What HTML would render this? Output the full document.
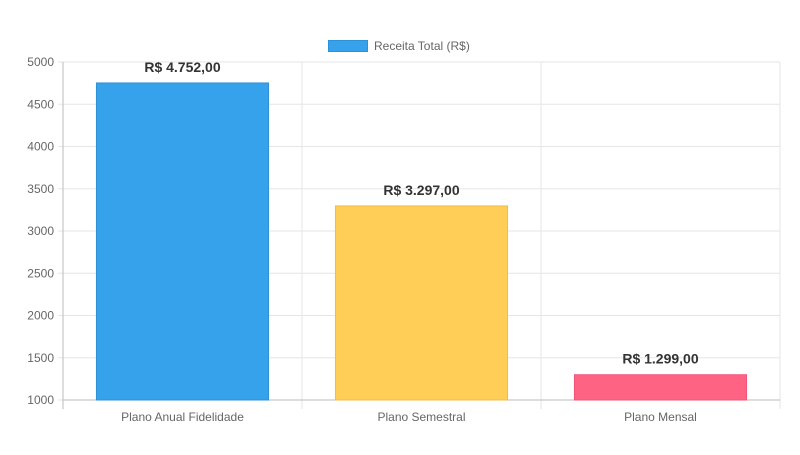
<!DOCTYPE html>
<html><head><meta charset="utf-8"><style>
body{margin:0;background:#fff;width:800px;height:450px;overflow:hidden;font-family:"Liberation Sans",sans-serif}
</style></head><body>
<svg id="chart" width="800" height="450" xmlns="http://www.w3.org/2000/svg" font-family="Liberation Sans, sans-serif"></svg>
<script>
const categories=["Plano Anual Fidelidade","Plano Semestral","Plano Mensal"];
const values=[4752,3297,1299];
const valueLabels=["R$ 4.752,00","R$ 3.297,00","R$ 1.299,00"];
const yTicks=[1000,1500,2000,2500,3000,3500,4000,4500,5000];
const colors=["#36A2EB","#FFCE56","#FF6384"];
const borders=["#2f90d6","#f0bd45","#f0557a"];
const svg=document.getElementById('chart');
const NS='http://www.w3.org/2000/svg';
const L=63,R=780,T=62,B=400,yMin=1000,yMax=5000;
const y=v=>B-(v-yMin)/(yMax-yMin)*(B-T);
const bw=(R-L)/categories.length;
const x=i=>L+i*bw;
function mk(tag,attrs,parent){const e=document.createElementNS(NS,tag);for(const k in attrs)e.setAttribute(k,attrs[k]);(parent||svg).appendChild(e);return e;}
// grid
yTicks.forEach(t=>{
 const g=mk('line',{x1:L-5,x2:R,y1:y(t),y2:y(t),stroke:'#e6e6e6','stroke-width':1});
 
 
 const tx=mk('text',{x:L-9,y:y(t)+4,'text-anchor':'end','font-size':12,fill:'#666'});
 tx.textContent=t;
 
 
});
for(let i=0;i<=categories.length;i++){
 const g=mk('line',{x1:x(i),x2:x(i),y1:T,y2:B+9,stroke:i==0?'#bbb':'#e6e6e6','stroke-width':1});
 
 
}
const xa=mk('line',{x1:L,x2:R,y1:B,y2:B,stroke:'#bbb'});


categories.forEach((c,i)=>{
 const w=bw*0.72,bx=x(i)+(bw-w)/2;
 const r=mk('rect',{x:bx,y:y(values[i]),width:w,height:B-y(values[i]),fill:colors[i],stroke:borders[i],'stroke-width':1});
 
 
 const v=mk('text',{x:x(i)+bw/2,y:y(values[i])-11,'text-anchor':'middle','font-size':14,'font-weight':'bold',fill:'#333'});
 v.textContent=valueLabels[i];
 
 
 const t=mk('text',{x:x(i)+bw/2,y:421,'text-anchor':'middle','font-size':12,fill:'#666'});
 t.textContent=c;
 
 
});
const lg=mk('g',{});


mk('rect',{x:328.5,y:40.5,width:39,height:11,fill:colors[0],stroke:borders[0]},lg);
const lt=mk('text',{x:374,y:50,'font-size':12,fill:'#666'},lg);
lt.textContent='Receita Total (R$)';
</script>
</body></html>
